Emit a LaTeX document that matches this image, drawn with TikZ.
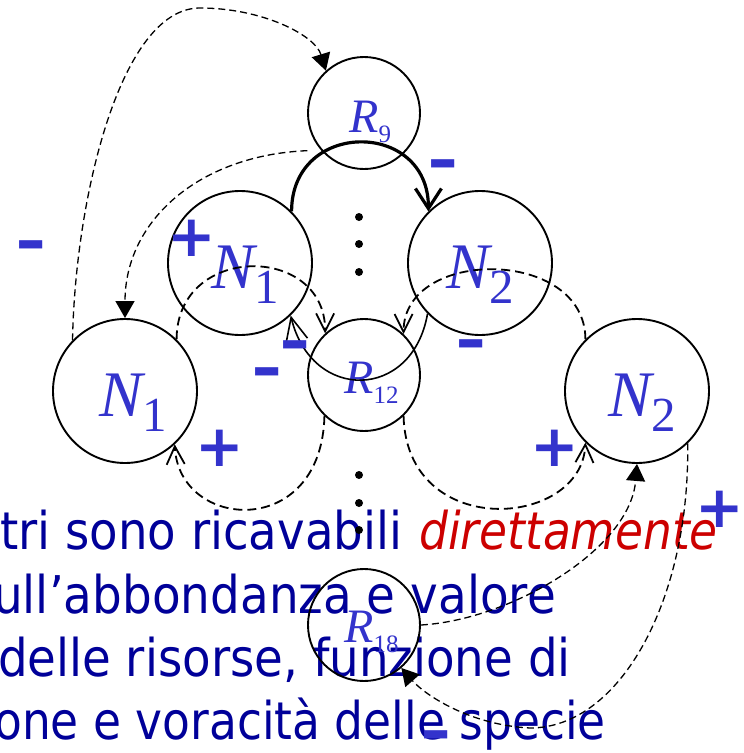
\documentclass[tikz,border=0pt]{standalone}
\usepackage{fontspec}
\setmainfont{Liberation Serif}
\newfontfamily\bodyfont[FakeStretch=0.875]{DejaVu Sans}
\newfontfamily\signfont{DejaVu Sans}
\usetikzlibrary{arrows.meta}
\definecolor{labblue}{RGB}{51,51,204}
\definecolor{txtblue}{RGB}{0,0,153}
\definecolor{txtred}{RGB}{204,0,0}
\newcommand{\Nlab}[1]{{\fontsize{65}{65}\selectfont\itshape N}\raisebox{-15pt}{\fontsize{49}{49}\selectfont #1}}
\newcommand{\Rlab}[1]{{\fontsize{48}{48}\selectfont\itshape R}\raisebox{-10pt}{\fontsize{25}{25}\selectfont #1}}
\begin{document}
\begin{tikzpicture}[x=1pt,y=-1pt,
  big/.style={circle,draw,line width=1.9pt,minimum size=144pt,inner sep=0pt},
  small/.style={circle,draw,line width=1.9pt,minimum size=112pt,inner sep=0pt},
  lab/.style={text=labblue,anchor=base west,inner sep=0pt},
  sign/.style={text=labblue,anchor=base,inner sep=0pt,font=\signfont\bfseries\fontsize{58}{58}\selectfont},
  minus/.style={sign,xscale=1.3},
  body/.style={text=txtblue,inner sep=0pt,anchor=base east,font=\bodyfont\fontsize{52}{52}\selectfont},
  arcd/.style={line width=1.8pt,dash pattern=on 9pt off 5pt},
  longd/.style={line width=1.3pt,dash pattern=on 7pt off 4pt},
  barb/.style={-{Straight Barb[length=18pt,width=18pt]}},
  tri/.style={-{Triangle[length=17pt,width=19pt]}}
]
\useasboundingbox (0,0) rectangle (744,753);

% body text
\node[body,anchor=base west] (t1) at (0,549) {\scalebox{1.025}[1]{tri sono ricavabili}};
\node[body,anchor=base west,text=txtred] (t1b) at (419,549) {\itshape direttamente};
\node[body] (t2) at (556,613) {\scalebox{1.03}[1]{sull’abbondanza e valore}};
\node[body] (t3) at (571,676) {\scalebox{1.027}[1]{delle risorse, funzione di}};
\node[body] (t4) at (606,739) {one e voracità delle specie};

% circles
\node[small] (R9) at (364,113) {};
\node[small] (R12) at (364,375) {};
\node[small] (R18) at (364,625) {};
\node[big] (N1u) at (240,263) {};
\node[big] (N2u) at (480,263) {};
\node[big] (N1l) at (125,391) {};
\node[big] (N2l) at (637,391) {};

% labels
\node[lab] (lR9) at ([xshift=-15pt,yshift=-19pt]R9.center) {\Rlab{9}};
\node[lab] (lR12) at ([xshift=-20pt,yshift=-18pt]R12.center) {\Rlab{12}};
\node[lab] (lR18) at ([xshift=-20pt,yshift=-17pt]R18.center) {\Rlab{18}};
\node[lab] (lN1u) at ([xshift=-29pt,yshift=-25pt]N1u.center) {\Nlab{1}};
\node[lab] (lN2u) at ([xshift=-34pt,yshift=-25pt]N2u.center) {\Nlab{2}};
\node[lab] (lN1l) at ([xshift=-26pt,yshift=-25pt]N1l.center) {\Nlab{1}};
\node[lab] (lN2l) at ([xshift=-29pt,yshift=-25pt]N2l.center) {\Nlab{2}};

% dots
\foreach \yy in {217,244,272,475,503,530} \fill (359,\yy) circle (4pt);

% solid arcs between N1 and N2
\draw[line width=3.2pt,-{Straight Barb[length=20pt,width=26pt]}]
  (N1u.45) .. controls +(0,-92) and +(0,-92) .. (N2u.135);
\draw[line width=1.6pt,-{Straight Barb[length=24pt,width=22pt]}]
  (N2u.224) .. controls +(-15,87) and +(21,87) .. (N1u.314);

% dashed arcs around R12
\draw[arcd,barb] (N1l.45) .. controls +(0,-96) and +(0,-90) .. (R12.133);
\draw[arcd,barb] (N2l.135) .. controls +(0,-92) and +(0,-87) .. (R12.46);
\draw[arcd,barb] (R12.226) .. controls +(-3,125) and +(4,86) .. (N1l.313);
\draw[arcd,barb] (R12.314) .. controls +(3,125) and +(-4,86) .. (N2l.225);

% long dashed curves
\draw[longd,tri] (N1l.136) .. controls (75,200) and (120,8) .. (200,8)
  .. controls (262,8) and (315,35) .. (R9.132);
\draw[longd,tri] ([xshift=-10pt,yshift=-5pt]R9.215) .. controls (200,155) and (125,220) .. (N1l.90);
\draw[longd,tri] (R18.0) .. controls (510,620) and (630,550) .. (N2l.270);
\draw[longd,tri] (N2l.314) .. controls (690,600) and (620,728) .. (530,728)
  .. controls (470,725) and (425,695) .. (R18.311);

% signs
\node[minus] (m1) at (31,261) {-};
\node[sign] (p1) at (192,256) {+};
\node[minus] (m2) at (443,180) {-};
\node[minus] (m3) at (295,361) {-};
\node[minus] (m4) at (267,388) {-};
\node[minus] (m5) at (471,360) {-};
\node[sign] (p2) at (220,466) {+};
\node[sign] (p3) at (555,466) {+};
\node[sign] (p4) at (720,527) {+};
\node[minus] (m6) at (436,751) {-};
\end{tikzpicture}
\end{document}
